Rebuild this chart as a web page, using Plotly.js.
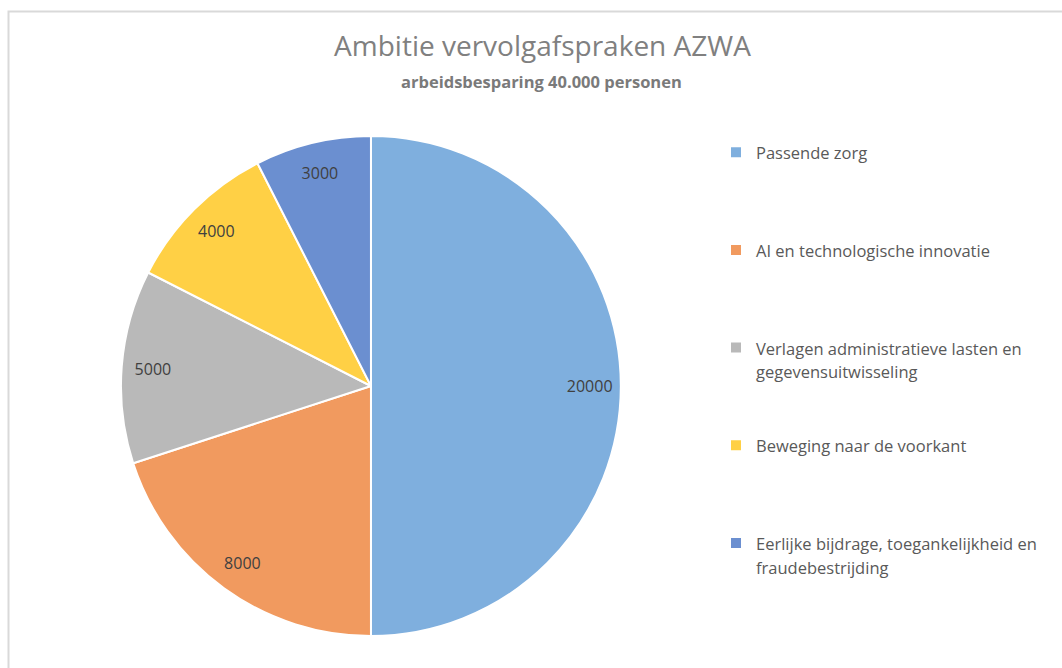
<!DOCTYPE html>
<html>
<head>
<meta charset="utf-8">
<script src="https://cdn.plot.ly/plotly-3.0.1.min.js"></script>
<style>
  html, body { margin: 0; padding: 0; background: #ffffff; }
  #chart { width: 1062px; height: 668px; }
</style>
</head>
<body>
<div id="chart"></div>
<script>
// ---- data ----
var categories = [
  'Passende zorg',
  'AI en technologische innovatie',
  'Verlagen administratieve lasten en<br>gegevensuitwisseling',
  'Beweging naar de voorkant',
  'Eerlijke bijdrage, toegankelijkheid en<br>fraudebestrijding'
];
var values = [20000, 8000, 5000, 4000, 3000];
var sliceColors = ['#7fafde', '#f19a5f', '#b9b9b9', '#ffd045', '#6b8fd0'];
var chartTitle = 'Ambitie vervolgafspraken AZWA';
var chartSubtitle = 'arbeidsbesparing 40.000 personen';

// legend labels: same categories, padded to equal height blocks
var LINES_PER_ITEM = 4;
var legendLabels = categories.map(function (c) {
  var n = c.split('<br>').length;
  var pad = '';
  for (var i = n; i < LINES_PER_ITEM; i++) pad += '<br> ';
  return '<span style="font-size:16.5px">' + c + '</span>' + pad;
});

var pieDomain = { x: [0.1139, 0.5847], y: [0.0479, 0.7964] };

var pieTrace = {
  type: 'pie',
  labels: legendLabels,
  values: values,
  sort: false,
  direction: 'clockwise',
  rotation: 0,
  domain: pieDomain,
  marker: { colors: sliceColors, line: { color: '#ffffff', width: 2 } },
  textinfo: 'none',
  hoverinfo: 'value',
  showlegend: true
};

// label ring: same values, transparent, used only to place value labels near the rim
var labelTrace = {
  type: 'pie',
  labels: legendLabels,
  values: values,
  sort: false,
  direction: 'clockwise',
  rotation: 0,
  hole: 0.75,
  domain: pieDomain,
  marker: { colors: values.map(function () { return 'rgba(0,0,0,0)'; }), line: { width: 0 } },
  texttemplate: '%{value:.0f}',
  textposition: 'inside',
  insidetextorientation: 'horizontal',
  textfont: { family: 'Open Sans, sans-serif', size: 16, color: '#404040' },
  hoverinfo: 'skip',
  showlegend: false
};

var layout = {
  width: 1062,
  height: 668,
  margin: { l: 0, r: 0, t: 0, b: 0 },
  paper_bgcolor: '#ffffff',
  font: { family: 'Open Sans, sans-serif', color: '#595959' },
  title: {
    text: chartTitle,
    font: { family: 'Open Sans, sans-serif', size: 28, color: '#808080' },
    x: 0.5108, xref: 'paper', xanchor: 'center',
    y: 1 - 36 / 668, yref: 'container', yanchor: 'top'
  },
  annotations: [{
    text: chartSubtitle,
    xref: 'paper', yref: 'paper',
    x: 0.5099, xanchor: 'center',
    y: 1 - 81 / 668, yanchor: 'middle',
    showarrow: false,
    font: { family: 'Open Sans, sans-serif', size: 16.5, color: '#7a7a7a', weight: 'bold' }
  }],
  showlegend: true,
  legend: {
    x: 716 / 1062, xanchor: 'left',
    y: 1 - 134 / 668, yanchor: 'top',
    valign: 'top',
    bgcolor: 'rgba(0,0,0,0)',
    borderwidth: 0,
    font: { family: 'Open Sans, sans-serif', size: 18.2, color: '#595959' }
  },
  shapes: [{
    type: 'rect', xref: 'paper', yref: 'paper',
    x0: 8.5 / 1062, x1: 1.02, y0: -0.02, y1: 1 - 11.5 / 668,
    line: { color: '#d9d9d9', width: 2 }, fillcolor: 'rgba(0,0,0,0)', layer: 'below'
  }]
};

Plotly.newPlot('chart', [pieTrace, labelTrace], layout, { displayModeBar: false, staticPlot: true });
</script>
</body>
</html>
